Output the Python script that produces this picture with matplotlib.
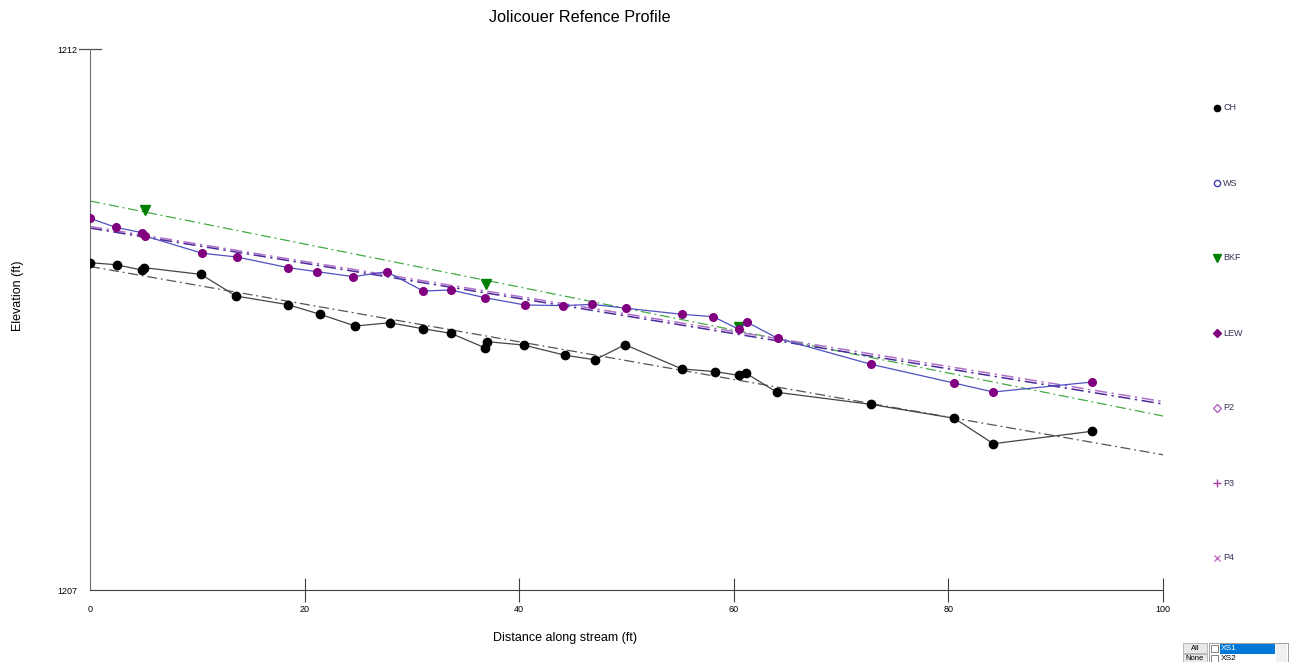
import matplotlib
matplotlib.use("Agg")
import matplotlib.pyplot as plt
from matplotlib.patches import Rectangle

plt.rcParams['font.family'] = ['Liberation Sans', 'DejaVu Sans']

# channel (CH) points
ch_x = [0, 2.49, 4.82, 5.06, 10.34, 13.61, 18.45, 21.44, 24.72, 27.96, 31.0, 33.64,
        36.84, 37.03, 40.42, 44.3, 47.07, 49.86, 55.17, 58.28, 60.46, 61.14, 64.03,
        72.76, 80.55, 84.18, 93.38]
ch_y = [1210.025, 1210.006, 1209.957, 1209.979, 1209.917, 1209.717, 1209.637, 1209.548,
        1209.44, 1209.47, 1209.415, 1209.372, 1209.237, 1209.295, 1209.264, 1209.169,
        1209.128, 1209.267, 1209.043, 1209.018, 1208.984, 1209.003, 1208.827, 1208.716,
        1208.587, 1208.352, 1208.467]

# left edge of water (LEW) / water surface points
lew_x = [0, 2.39, 4.88, 5.13, 10.46, 13.67, 18.48, 21.15, 24.54, 27.65, 31.06, 33.62,
         36.84, 40.54, 44.11, 46.81, 49.98, 55.17, 58.09, 60.50, 61.20, 64.09, 72.79,
         80.52, 84.18, 93.38]
lew_y = [1210.435, 1210.352, 1210.302, 1210.272, 1210.112, 1210.078, 1209.979, 1209.942,
         1209.896, 1209.942, 1209.763, 1209.773, 1209.701, 1209.634, 1209.628, 1209.64,
         1209.604, 1209.548, 1209.526, 1209.408, 1209.477, 1209.326, 1209.086, 1208.913,
         1208.83, 1208.922]

# bankfull (BKF) points
bkf_x = [5.13, 36.88, 60.48]
bkf_y = [1210.512, 1209.828, 1209.435]

# fitted profile lines (start / end)
fit_x = [0, 100]
ch_fit = [1209.99, 1208.25]
bkf_fit = [1210.595, 1208.608]
ws_fit = [1210.345, 1208.719]
lew_fit = [1210.36, 1208.742]

legend_names = ['CH', 'WS', 'BKF', 'LEW', 'P2', 'P3', 'P4']

fig = plt.figure(figsize=(12.95, 6.62), dpi=100)
ax = fig.add_axes([90 / 1295, 72 / 662, 1073 / 1295, 541 / 662])

ax.plot(fit_x, ch_fit, color='#555555', lw=0.9, dashes=[8, 3, 1.5, 3])
ax.plot(fit_x, bkf_fit, color='#44aa44', lw=0.9, dashes=[8, 3, 1.5, 3])
ax.plot(fit_x, lew_fit, color='#b070c8', lw=1.1, dashes=[8, 3, 1.5, 3])
ax.plot(fit_x, ws_fit, color='#4b2a9a', lw=1.1, dashes=[8, 3, 1.5, 3])

ax.plot(ch_x, ch_y, color='#444444', lw=0.9, marker='o', ms=6,
        mfc='black', mec='black', zorder=3)
ax.plot(lew_x, lew_y, color='#5050c0', lw=0.9, marker='o', ms=5.5,
        mfc='#800080', mec='#800080', zorder=3)
ax.plot(bkf_x, bkf_y, ls='none', marker='v', ms=7, color='#008000', zorder=2)

ax.set_xlim(0, 100)
ax.set_ylim(1207, 1212)
for s in ['top', 'right']:
    ax.spines[s].set_visible(False)
ax.spines['left'].set_color('#707070')
ax.spines['bottom'].set_color('#404040')
ax.set_xticks([0, 20, 40, 60, 80, 100])
ax.set_yticks([1207, 1212])
ax.tick_params(axis='x', direction='inout', length=17, width=0.8, color='#404040',
               labelsize=6.5, pad=2)
ax.tick_params(axis='y', direction='inout', length=0, labelsize=6.5, pad=9)
xt = ax.xaxis.get_major_ticks()
xt[0].tick1line.set_visible(False)
ax.plot([-1, 1], [1212, 1212], color='#505050', lw=0.9, clip_on=False)

fig.text(580 / 1295, 1 - 17 / 662, 'Jolicouer Refence Profile', fontsize=11.7,
         ha='center', va='center')
fig.text(565 / 1295, 1 - 638 / 662, 'Distance along stream (ft)', fontsize=9,
         ha='center', va='center')
fig.text(18 / 1295, 1 - 296 / 662, 'Elevation (ft)', fontsize=9, rotation=90,
         ha='center', va='center')

# legend and list widget on an overlay in pixel units
ov = fig.add_axes([0, 0, 1, 1], zorder=5)
ov.set_xlim(0, 1295)
ov.set_ylim(662, 0)
ov.axis('off')
ov.patch.set_alpha(0)

styles = [dict(marker='o', mfc='black', mec='black', ms=4.5),
          dict(marker='o', mfc='white', mec='#4040b0', ms=4.5),
          dict(marker='v', mfc='#008000', mec='#008000', ms=5.5),
          dict(marker='D', mfc='#800080', mec='#800080', ms=4),
          dict(marker='D', mfc='white', mec='#b060c0', ms=4),
          dict(marker='+', mfc='#a040a0', mec='#a040a0', ms=6),
          dict(marker='x', mfc='#c070c0', mec='#c070c0', ms=5)]
for i, (name, st) in enumerate(zip(legend_names, styles)):
    yy = 108 + 75 * i
    ov.plot([1217], [yy], ls='none', **st)
    ov.text(1223, yy, name, fontsize=6.5, va='center', ha='left', color='#303050')

ov.add_patch(Rectangle((1183, 643), 24, 10, fc='#e8e8e8', ec='#b0b0b0', lw=0.6))
ov.add_patch(Rectangle((1183, 654), 24, 9, fc='#e8e8e8', ec='#b0b0b0', lw=0.6))
ov.text(1195, 648, 'All', fontsize=5.5, ha='center', va='center')
ov.text(1195, 658.5, 'None', fontsize=5.5, ha='center', va='center')
ov.add_patch(Rectangle((1209, 643), 79, 20, fc='white', ec='#909090', lw=0.6))
ov.add_patch(Rectangle((1276, 644), 11, 18, fc='#f0f0f0', ec='none'))
ov.add_patch(Rectangle((1220, 644), 55, 10, fc='#0078d7', ec='none'))
ov.add_patch(Rectangle((1211, 645), 7, 7, fc='white', ec='#707070', lw=0.6))
ov.add_patch(Rectangle((1211, 655), 7, 7, fc='white', ec='#707070', lw=0.6))
ov.text(1221, 649, 'XS1', fontsize=6, color='white', va='center')
ov.text(1221, 659, 'XS2', fontsize=6, color='black', va='center')

fig.savefig('out.png', dpi=100)
